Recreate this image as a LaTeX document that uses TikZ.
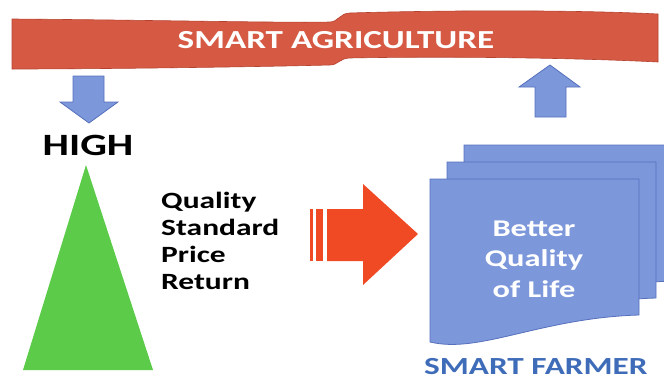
\documentclass[tikz,border=0pt]{standalone}
\usepackage{fontspec}
\usepackage{tikz}
\usepackage{xcolor}
\newfontfamily\wide[FakeStretch=1.35]{Carlito}
\definecolor{bannerred}{HTML}{D65A43}
\definecolor{bannerline}{HTML}{B5412F}
\definecolor{pageblue}{HTML}{7D97DB}
\definecolor{pageline}{HTML}{5670BC}
\definecolor{trigreen}{HTML}{5CCB4A}
\definecolor{arrowred}{HTML}{F04A25}
\definecolor{farmerblue}{HTML}{3F6CB8}

\begin{document}
\begin{tikzpicture}[x=1pt,y=-1pt,
    bluebox/.style={fill=pageblue,draw=pageline,line width=0.8pt},
    bigword/.style={inner sep=0pt,font=\wide\bfseries\fontsize{#1}{#1}\selectfont}]
    \useasboundingbox (0,0) rectangle (664,380);

    % Draw the banner
    \filldraw[fill=bannerred,draw=bannerline,line width=0.6pt]
        (12,19) .. controls (150,20) and (280,23) .. (330,22)
        .. controls (338,22) and (340,13) .. (350,13)
        .. controls (450,10) and (580,10) .. (658,14) -- (658,62)
        .. controls (580,58) and (450,56) .. (350,58)
        .. controls (340,58) and (338,65) .. (330,65)
        .. controls (250,67) and (100,69) .. (12,69) -- cycle;
    \node[bigword=26,text=white,anchor=base] (banner) at (336,48) {SMART AGRICULTURE};

    % Arrows down and up
    \filldraw[bluebox] (73,76) -- (104,76) -- (104,102) -- (118,102) -- (89,123)
        -- (60,102) -- (73,102) -- cycle;
    \filldraw[bluebox] (535,117) -- (566,117) -- (566,87) -- (580,87) -- (550,65)
        -- (519,87) -- (535,87) -- cycle;

    % Label HIGH and the triangle
    \node[bigword=31,text=black,anchor=base] (high) at (88,155) {HIGH};
    \fill[trigreen] (86,165) -- (153,370) -- (23,370) -- cycle;

    % Factors
    \foreach \t [count=\i] in {Quality,Standard,Price,Return}
        \node[bigword=23.3,text=black,anchor=base west] (f\i) at (161,181+27*\i) {\t};

    % Red arrow
    \fill[arrowred] (310,209) rectangle (313,261);
    \fill[arrowred] (316,209) rectangle (323,261);
    \fill[arrowred] (327,209) -- (363,209) -- (363,184) -- (418,234) -- (363,285)
        -- (363,261) -- (327,261) -- cycle;

    % Stack of pages
    \foreach \d in {34,17,0}
        \filldraw[bluebox] (430+\d,179-\d) -- (639+\d,179-\d) -- (639+\d,315-\d)
            .. controls (540+\d,318-\d) and (480+\d,354-\d) .. (430+\d,342-\d) -- cycle;
    \node[bigword=24,text=white,align=center,font=\wide\bfseries\fontsize{24}{30.5}\selectfont,
        anchor=base] (life) at (534,297) {Better\\Quality\\of Life};
    \node[bigword=24.6,text=farmerblue,anchor=base west] (farmer) at (424,374) {SMART FARMER};
\end{tikzpicture}
\end{document}
